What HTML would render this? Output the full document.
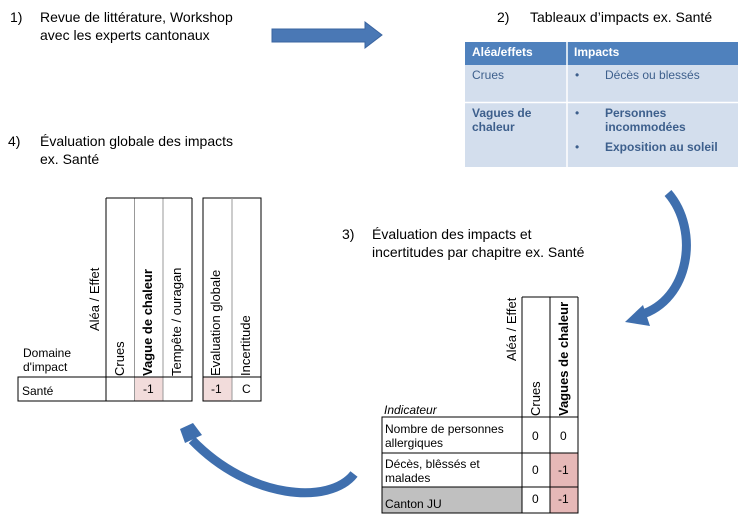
<!DOCTYPE html>
<html><head><meta charset="utf-8"><style>
body{margin:0;width:738px;height:517px;position:relative;background:#fff;font-family:"Liberation Sans",sans-serif;color:#000;overflow:hidden}
.t{position:absolute;font-size:14px;line-height:18px;white-space:nowrap}
.s{position:absolute;font-size:12px;line-height:14px;white-space:nowrap}
.r{position:absolute;font-size:13px;white-space:nowrap;transform:rotate(-90deg);transform-origin:left top}
</style></head><body>
<div class="t" style="left:10px;top:8px">1)</div>
<div class="t" style="left:40px;top:8px">Revue de littérature, Workshop<br>avec les experts cantonaux</div>
<div class="t" style="left:497px;top:8px">2)</div>
<div class="t" style="left:530px;top:8px">Tableaux d’impacts ex. Santé</div>
<div class="t" style="left:8px;top:132px">4)</div>
<div class="t" style="left:40px;top:132px">Évaluation globale des impacts<br>ex. Santé</div>
<div class="t" style="left:342px;top:225px">3)</div>
<div class="t" style="left:372px;top:225px">Évaluation des impacts et<br>incertitudes par chapitre ex. Santé</div>

<svg width="738" height="517" style="position:absolute;left:0;top:0">
<polygon points="272,29 365,29 365,22 382,35 365,48 365,42 272,42" fill="#4a78b5" stroke="#3a64a0" stroke-width="1"/>
<rect x="465" y="42" width="273" height="23" fill="#4f81bd"/>
<rect x="465" y="65" width="273" height="37" fill="#d3deed"/>
<rect x="465" y="103" width="273" height="64" fill="#d3deed"/>
<line x1="567" y1="42" x2="567" y2="167" stroke="#fff" stroke-width="1.5"/>
<line x1="465" y1="102.5" x2="738" y2="102.5" stroke="#fff" stroke-width="1.5"/>
<path d="M668,193 C700,230 690,300 640,315" fill="none" stroke="#3f6fae" stroke-width="9"/>
<polygon points="643,305 625,322 650,326" fill="#3f6fae"/>
<path d="M354,474 C330,505 250,500 192,440" fill="none" stroke="#3f6fae" stroke-width="9"/>
<polygon points="180,429 193,423 202,435 185,443" fill="#3f6fae"/>
<g stroke="#000" stroke-width="1" fill="none">
<rect x="135" y="377" width="28" height="24" fill="#f2dcdb" stroke="none"/>
<rect x="203" y="377" width="29" height="24" fill="#f2dcdb" stroke="none"/>
<line x1="106" y1="198" x2="106" y2="401"/>
<line x1="134.5" y1="198" x2="134.5" y2="401" stroke="#999"/>
<line x1="163" y1="198" x2="163" y2="401" stroke="#999"/>
<line x1="192" y1="198" x2="192" y2="401"/>
<line x1="106" y1="198" x2="192" y2="198"/>
<rect x="18" y="377" width="174" height="24"/>
<rect x="203" y="198" width="58" height="203"/>
<line x1="232" y1="198" x2="232" y2="401" stroke="#999"/>
<line x1="203" y1="377" x2="261" y2="377"/>
</g>
<g stroke="#000" stroke-width="1" fill="none">
<rect x="382" y="487" width="140" height="26" fill="#c0c0c0" stroke="none"/>
<rect x="550" y="453" width="28" height="60" fill="#e6b8b7" stroke="none"/>
<line x1="522" y1="297" x2="522" y2="513"/>
<line x1="550" y1="297" x2="550" y2="513"/>
<line x1="578" y1="297" x2="578" y2="513"/>
<line x1="522" y1="297" x2="578" y2="297"/>
<rect x="382" y="417" width="196" height="96"/>
<line x1="382" y1="453" x2="578" y2="453"/>
<line x1="382" y1="487" x2="578" y2="487"/>
</g>
</svg>

<div class="s" style="left:472px;top:45px;color:#fff;font-weight:bold;font-size:12px">Aléa/effets</div>
<div class="s" style="left:574px;top:45px;color:#fff;font-weight:bold;font-size:12px">Impacts</div>
<div class="s" style="left:472px;top:68px;color:#3d5f8c">Crues</div>
<div class="s" style="left:575px;top:68px;color:#3d5f8c">•</div>
<div class="s" style="left:605px;top:68px;color:#3d5f8c">Décès ou blessés</div>
<div class="s" style="left:472px;top:106px;color:#3d5f8c;font-weight:bold">Vagues de<br>chaleur</div>
<div class="s" style="left:575px;top:106px;color:#3d5f8c">•</div>
<div class="s" style="left:605px;top:106px;color:#3d5f8c;font-weight:bold">Personnes<br>incommodées</div>
<div class="s" style="left:575px;top:140px;color:#3d5f8c">•</div>
<div class="s" style="left:605px;top:140px;color:#3d5f8c;font-weight:bold">Exposition au soleil</div>

<div class="r" style="left:87px;top:331px">Aléa / Effet</div>
<div class="s" style="left:23px;top:346px">Domaine<br>d'impact</div>
<div class="r" style="left:112px;top:376px">Crues</div>
<div class="r" style="left:140px;top:376px;font-weight:bold">Vague de chaleur</div>
<div class="r" style="left:169px;top:376px">Tempête / ouragan</div>
<div class="r" style="left:208px;top:376px">Evaluation globale</div>
<div class="r" style="left:238px;top:376px">Incertitude</div>
<div class="s" style="left:22px;top:384px">Santé</div>
<div class="s" style="left:143px;top:382px">-1</div>
<div class="s" style="left:211px;top:382px">-1</div>
<div class="s" style="left:242px;top:382px">C</div>

<div class="r" style="left:504px;top:361px">Aléa / Effet</div>
<div class="s" style="left:384px;top:403px;font-style:italic">Indicateur</div>
<div class="r" style="left:528px;top:416px">Crues</div>
<div class="r" style="left:556px;top:416px;font-weight:bold">Vagues de chaleur</div>
<div class="s" style="left:385px;top:422px">Nombre de personnes<br>allergiques</div>
<div class="s" style="left:385px;top:457px">Décès, blêssés et<br>malades</div>
<div class="s" style="left:385px;top:497px">Canton JU</div>
<div class="s" style="left:532px;top:429px">0</div>
<div class="s" style="left:560px;top:429px">0</div>
<div class="s" style="left:532px;top:463px">0</div>
<div class="s" style="left:558px;top:463px">-1</div>
<div class="s" style="left:532px;top:492px">0</div>
<div class="s" style="left:558px;top:492px">-1</div>
</body></html>
